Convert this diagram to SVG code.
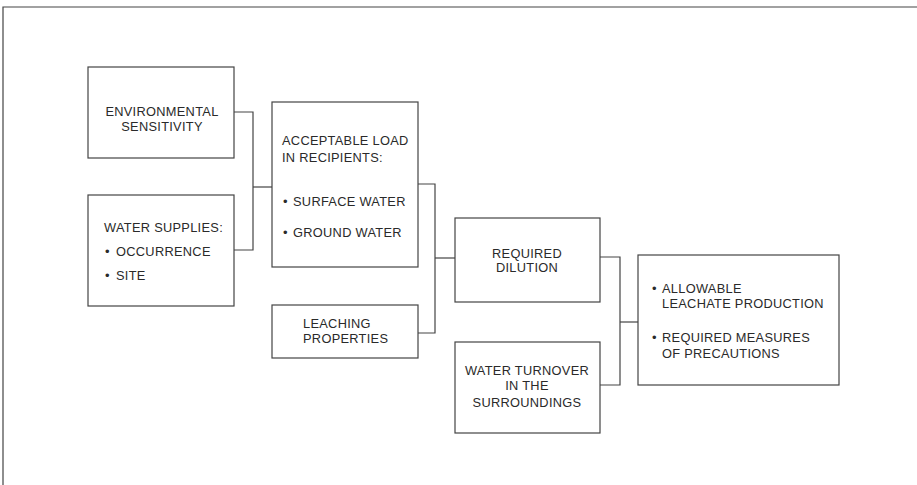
<svg xmlns="http://www.w3.org/2000/svg" width="917" height="485" viewBox="0 0 917 485">
<style>
.box{fill:#fff;stroke:#444;stroke-width:1.2}
.ln{fill:none;stroke:#444;stroke-width:1.2}
text{font-family:"Liberation Sans",Arial,sans-serif;font-size:12.8px;fill:#2a2a2a;letter-spacing:0.3px}
.c{text-anchor:middle}
.b{font-size:13px}
</style>
<rect width="917" height="485" fill="#fff"/>
<path class="ln" d="M3,485 V7 H917" stroke-width="1.5"/>
<g id="connectors">
<path class="ln" d="M234,112 H253 V250 H234"/>
<path class="ln" d="M253,187 H272"/>
<path class="ln" d="M418,184 H435 V333 H418"/>
<path class="ln" d="M435,258 H455"/>
<path class="ln" d="M600,257 H620 V385 H600"/>
<path class="ln" d="M620,322 H638"/>
</g>
<g id="env">
<rect class="box" x="88" y="67" width="146" height="91"/>
<text class="c" x="162" y="116">ENVIRONMENTAL</text>
<text class="c" x="162" y="131">SENSITIVITY</text>
</g>
<g id="water">
<rect class="box" x="88" y="195" width="146" height="111"/>
<text x="104" y="232">WATER SUPPLIES:</text>
<text class="b" x="105" y="256">•</text><text x="116" y="256">OCCURRENCE</text>
<text class="b" x="105" y="280">•</text><text x="116" y="280">SITE</text>
</g>
<g id="load">
<rect class="box" x="272" y="102" width="146" height="165"/>
<text x="282" y="145">ACCEPTABLE LOAD</text>
<text x="282" y="162">IN RECIPIENTS:</text>
<text class="b" x="283" y="206">•</text><text x="293" y="206">SURFACE WATER</text>
<text class="b" x="283" y="237">•</text><text x="293" y="237">GROUND WATER</text>
</g>
<g id="leach">
<rect class="box" x="272" y="305" width="146" height="53"/>
<text x="303" y="328">LEACHING</text>
<text x="303" y="343">PROPERTIES</text>
</g>
<g id="dilution">
<rect class="box" x="455" y="218" width="145" height="84"/>
<text class="c" x="527" y="258">REQUIRED</text>
<text class="c" x="527" y="272">DILUTION</text>
</g>
<g id="turnover">
<rect class="box" x="455" y="342" width="145" height="91"/>
<text class="c" x="527" y="375">WATER TURNOVER</text>
<text class="c" x="527" y="390">IN THE</text>
<text class="c" x="527" y="407">SURROUNDINGS</text>
</g>
<g id="result">
<rect class="box" x="638" y="255" width="201" height="130"/>
<text class="b" x="652" y="293">•</text><text x="662" y="293">ALLOWABLE</text>
<text x="662" y="308">LEACHATE PRODUCTION</text>
<text class="b" x="652" y="342">•</text><text x="662" y="342">REQUIRED MEASURES</text>
<text x="662" y="358">OF PRECAUTIONS</text>
</g>
</svg>
